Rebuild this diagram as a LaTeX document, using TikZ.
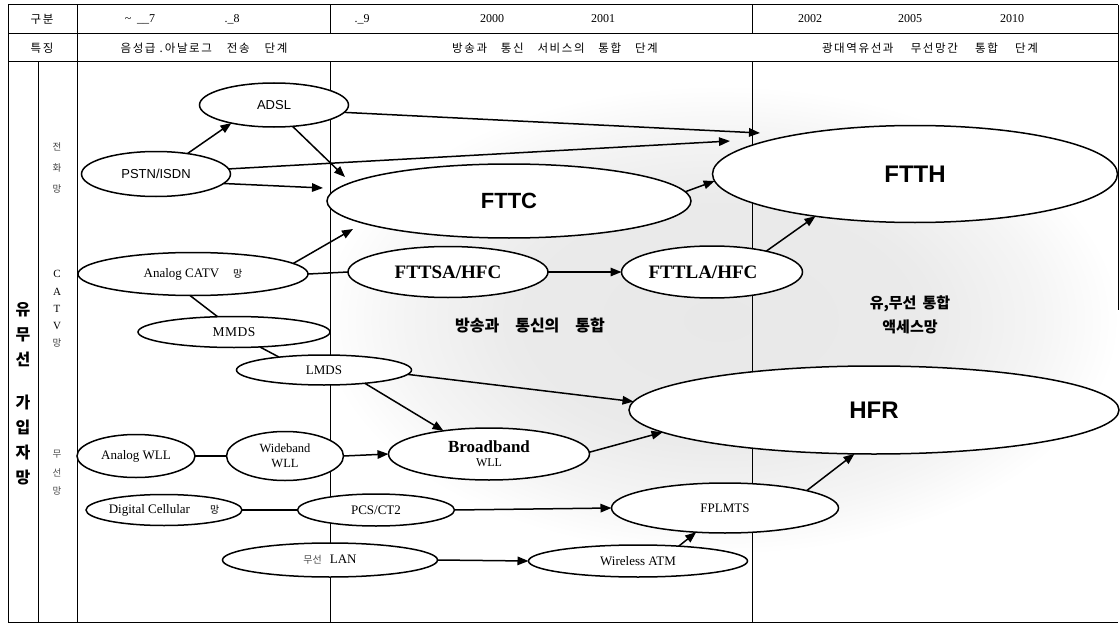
\documentclass[tikz,border=0pt]{standalone}
\usepackage{fontspec}
\setmainfont{Liberation Serif}
\newfontfamily\ar{Liberation Sans}
\newfontfamily\kr{Noto Sans CJK KR}
\newfontfamily\krh[LetterSpace=14]{Noto Sans CJK KR}
\usetikzlibrary{shapes.geometric,arrows.meta}
\pgfdeclareradialshading{haze}{\pgfpoint{0bp}{0bp}}{color(0bp)=(black!9);color(13bp)=(black!8);color(20bp)=(black!4);color(25bp)=(white);color(50bp)=(white)}
\newcommand{\zb}[1]{\makebox[0pt][c]{#1}}
\begin{document}
\begin{tikzpicture}[x=1pt,y=-1pt,
  ell/.style={ellipse,draw,line width=1.5pt,fill=white,inner sep=0pt,outer sep=0pt},
  tbl/.style={line width=1pt},
  con/.style={line width=1.5pt},
  arr/.style={con,-{Triangle[length=11pt,width=8.5pt]}},
  lbl/.style={inner sep=0pt},
  hd/.style={lbl,font=\krh\fontsize{11.5}{13}\selectfont},
  yr/.style={lbl,font=\fontsize{12}{14}\selectfont}]
\useasboundingbox (0,0) rectangle (1120,626);

% grey haze
\begin{scope}
\clip (333,62) rectangle (1118,622);
\shade[shading=haze] (720,320) ellipse [x radius=400pt, y radius=235pt];
\end{scope}

% table
\draw[tbl] (8,5) -- (1118,5);
\draw[tbl] (8,34) -- (1118,34);
\draw[tbl] (8,62) -- (1118,62);
\draw[tbl] (8,5) -- (8,622);
\draw[line width=0.7pt] (8,622) -- (1118,622);
\draw[tbl] (1118,5) -- (1118,310);
\draw[tbl] (77,5) -- (77,622);
\draw[tbl] (38,62) -- (38,622);
\draw[tbl] (330,5) -- (330,34);
\draw[tbl] (330,62) -- (330,622);
\draw[tbl] (752,5) -- (752,34);
\draw[tbl] (752,62) -- (752,622);

% header
\node[hd] (h1) at (42,19) {구분};
\node[hd] (h2) at (42,48) {특징};
\node[yr] (y7) at (140,19) {\textasciitilde\ \ \_\_7};
\node[yr] (y8) at (232,19) {.\_8};
\node[yr] (y9) at (362,19) {.\_9};
\node[yr] (y00) at (492,19) {2000};
\node[yr] (y01) at (603,19) {2001};
\node[yr] (y02) at (810,19) {2002};
\node[yr] (y05) at (910,19) {2005};
\node[yr] (y10) at (1012,19) {2010};
\node[hd] (f1) at (204,48) {음성급 .\,아날로그\hspace{1.3em}전송\hspace{1.3em}단계};
\node[hd] (f2) at (555,48) {방송과\hspace{1.2em}통신\hspace{1.2em}서비스의\hspace{1.2em}통합\hspace{1.2em}단계};
\node[hd] (f3) at (930,48) {광대역유선과\hspace{1.5em}무선망간\hspace{1.5em}통합\hspace{1.5em}단계};

% side labels
\node[lbl,font=\kr\bfseries\fontsize{16}{25}\selectfont,align=center] (side) at (23,394) {유\\무\\선\\[18pt]가\\입\\자\\망};
\node[lbl,font=\kr\fontsize{9.5}{21}\selectfont,align=center,text=black!75] (s1) at (57,168) {전\\화\\망};
\node[lbl,font=\fontsize{11}{17.2}\selectfont,align=center] (s2) at (57,309) {C\\A\\T\\V\\{\kr\fontsize{9.5}{11}\selectfont\color{black!75}망}};
\node[lbl,font=\kr\fontsize{9.5}{18.5}\selectfont,align=center,text=black!70] (s3) at (57,473) {무\\선\\망};

% ellipses
\node[ell,minimum width=149pt,minimum height=44pt] (ADSL) at (274,105) {\zb{\ar\fontsize{13}{15}\selectfont ADSL}};
\node[ell,minimum width=149pt,minimum height=45pt] (PSTN) at (156,174) {\zb{\ar\fontsize{13}{15}\selectfont PSTN/ISDN}};
\node[ell,minimum width=364pt,minimum height=74pt] (FTTC) at (509,201) {\zb{\ar\bfseries\fontsize{22}{25}\selectfont FTTC}};
\node[ell,minimum width=405pt,minimum height=97pt] (FTTH) at (915,174) {\zb{\ar\bfseries\fontsize{24}{27}\selectfont FTTH}};
\node[ell,minimum width=230pt,minimum height=43pt] (CATV) at (193,274) {\zb{\fontsize{13}{15}\selectfont Analog CATV\hspace{14pt}{\kr\fontsize{10}{12}\selectfont 망}}};
\node[ell,minimum width=200pt,minimum height=51pt] (FTTSA) at (448,272) {\zb{\bfseries\fontsize{19}{22}\selectfont FTTSA/HFC}};
\node[ell,minimum width=181pt,minimum height=52pt] (FTTLA) at (712,272) {\zb{\bfseries\fontsize{19}{22}\selectfont FTTLA/HFC\hspace*{18pt}}};
\node[ell,minimum width=192pt,minimum height=31pt] (MMDS) at (234,332) {\zb{\fontsize{13.5}{15}\selectfont M\kern0.5pt M\kern0.5pt D\kern0.5pt S}};
\node[ell,minimum width=175pt,minimum height=30pt] (LMDS) at (324,370) {\zb{\fontsize{13}{15}\selectfont LMDS}};
\node[ell,minimum width=490pt,minimum height=88pt] (HFR) at (874,410) {\zb{\ar\bfseries\fontsize{24}{27}\selectfont HFR}};
\node[ell,minimum width=201pt,minimum height=52pt] (BWLL) at (489,454) {\zb{\shortstack{{\bfseries\fontsize{17}{19}\selectfont Broadband}\\[3pt]{\fontsize{12}{14}\selectfont WLL}}}};
\node[ell,minimum width=118pt,minimum height=43pt] (AWLL) at (136,456) {\zb{\fontsize{13}{15}\selectfont Analog WLL}};
\node[ell,minimum width=117pt,minimum height=49pt] (WWLL) at (285,456) {\zb{\shortstack{{\fontsize{12.5}{14}\selectfont Wideband}\\[4pt]{\fontsize{12.5}{14}\selectfont WLL}}}};
\node[ell,minimum width=156pt,minimum height=31pt] (DCELL) at (164,510) {\zb{\fontsize{13}{15}\selectfont Digital Cellular\hspace{20pt}{\kr\fontsize{10}{12}\selectfont 망}}};
\node[ell,minimum width=157pt,minimum height=32pt] (PCS) at (376,510) {\zb{\fontsize{13}{15}\selectfont PCS/CT2}};
\node[ell,minimum width=227pt,minimum height=50pt] (FPLMTS) at (725,508) {\zb{\fontsize{13}{15}\selectfont FPLMTS}};
\node[ell,minimum width=215pt,minimum height=34pt] (WLAN) at (330,560) {\zb{{\kr\fontsize{10}{12}\selectfont\color{black!70}무선}\hspace{8pt}{\fontsize{13}{15}\selectfont LAN}}};
\node[ell,minimum width=219pt,minimum height=32pt] (WATM) at (638,561) {\zb{\fontsize{13}{15}\selectfont Wireless ATM}};

% free texts
\node[lbl,font=\kr\bfseries\fontsize{16}{18}\selectfont] (conv) at (530,325) {방송과\hspace{16pt}통신의\hspace{16pt}통합};
\node[lbl,font=\kr\bfseries\fontsize{15}{24}\selectfont,align=center] (acc) at (910,315) {유,무선\hspace{6pt}통합\\액세스망};

% free arrow ends
\coordinate (tA) at (345,177);
\coordinate (tB) at (760,133);
\coordinate (tC) at (730,141);
\coordinate (tD) at (323,188);
\coordinate (tE) at (353,229);

% connectors
\draw[arr] (PSTN.33) -- (ADSL.203);
\draw[arr] (ADSL.-49) -- (tA);
\draw[arr] (ADSL.-6) -- (tB);
\draw[arr] (PSTN.4) -- (tC);
\draw[arr] (PSTN.-8) -- (tD);
\draw[arr] (CATV.6) -- (tE);
\draw[con] (CATV.east) -- (FTTSA.west);
\draw[arr] (FTTSA.east) -- (FTTLA.west);
\draw[arr] (FTTC.3) -- (FTTH.182);
\draw[arr] (FTTLA.21) -- (FTTH.203);
\draw[con] (CATV.-98) -- (MMDS.137);
\draw[con] (MMDS.-30) -- (LMDS.164);
\draw[arr] (LMDS.-3) -- (HFR.178);
\draw[arr] (LMDS.-18) -- (BWLL.153);
\draw[arr] (BWLL.1) -- (HFR.186);
\draw[con] (AWLL.east) -- (WWLL.west);
\draw[arr] (WWLL.east) -- (BWLL.west);
\draw[con] (DCELL.east) -- (PCS.west);
\draw[arr] (PCS.east) -- (FPLMTS.west);
\draw[arr] (WLAN.east) -- (WATM.west);
\draw[arr] (WATM.20) -- (FPLMTS.-140);
\draw[arr] (FPLMTS.12) -- (HFR.-114);
\end{tikzpicture}
\end{document}
